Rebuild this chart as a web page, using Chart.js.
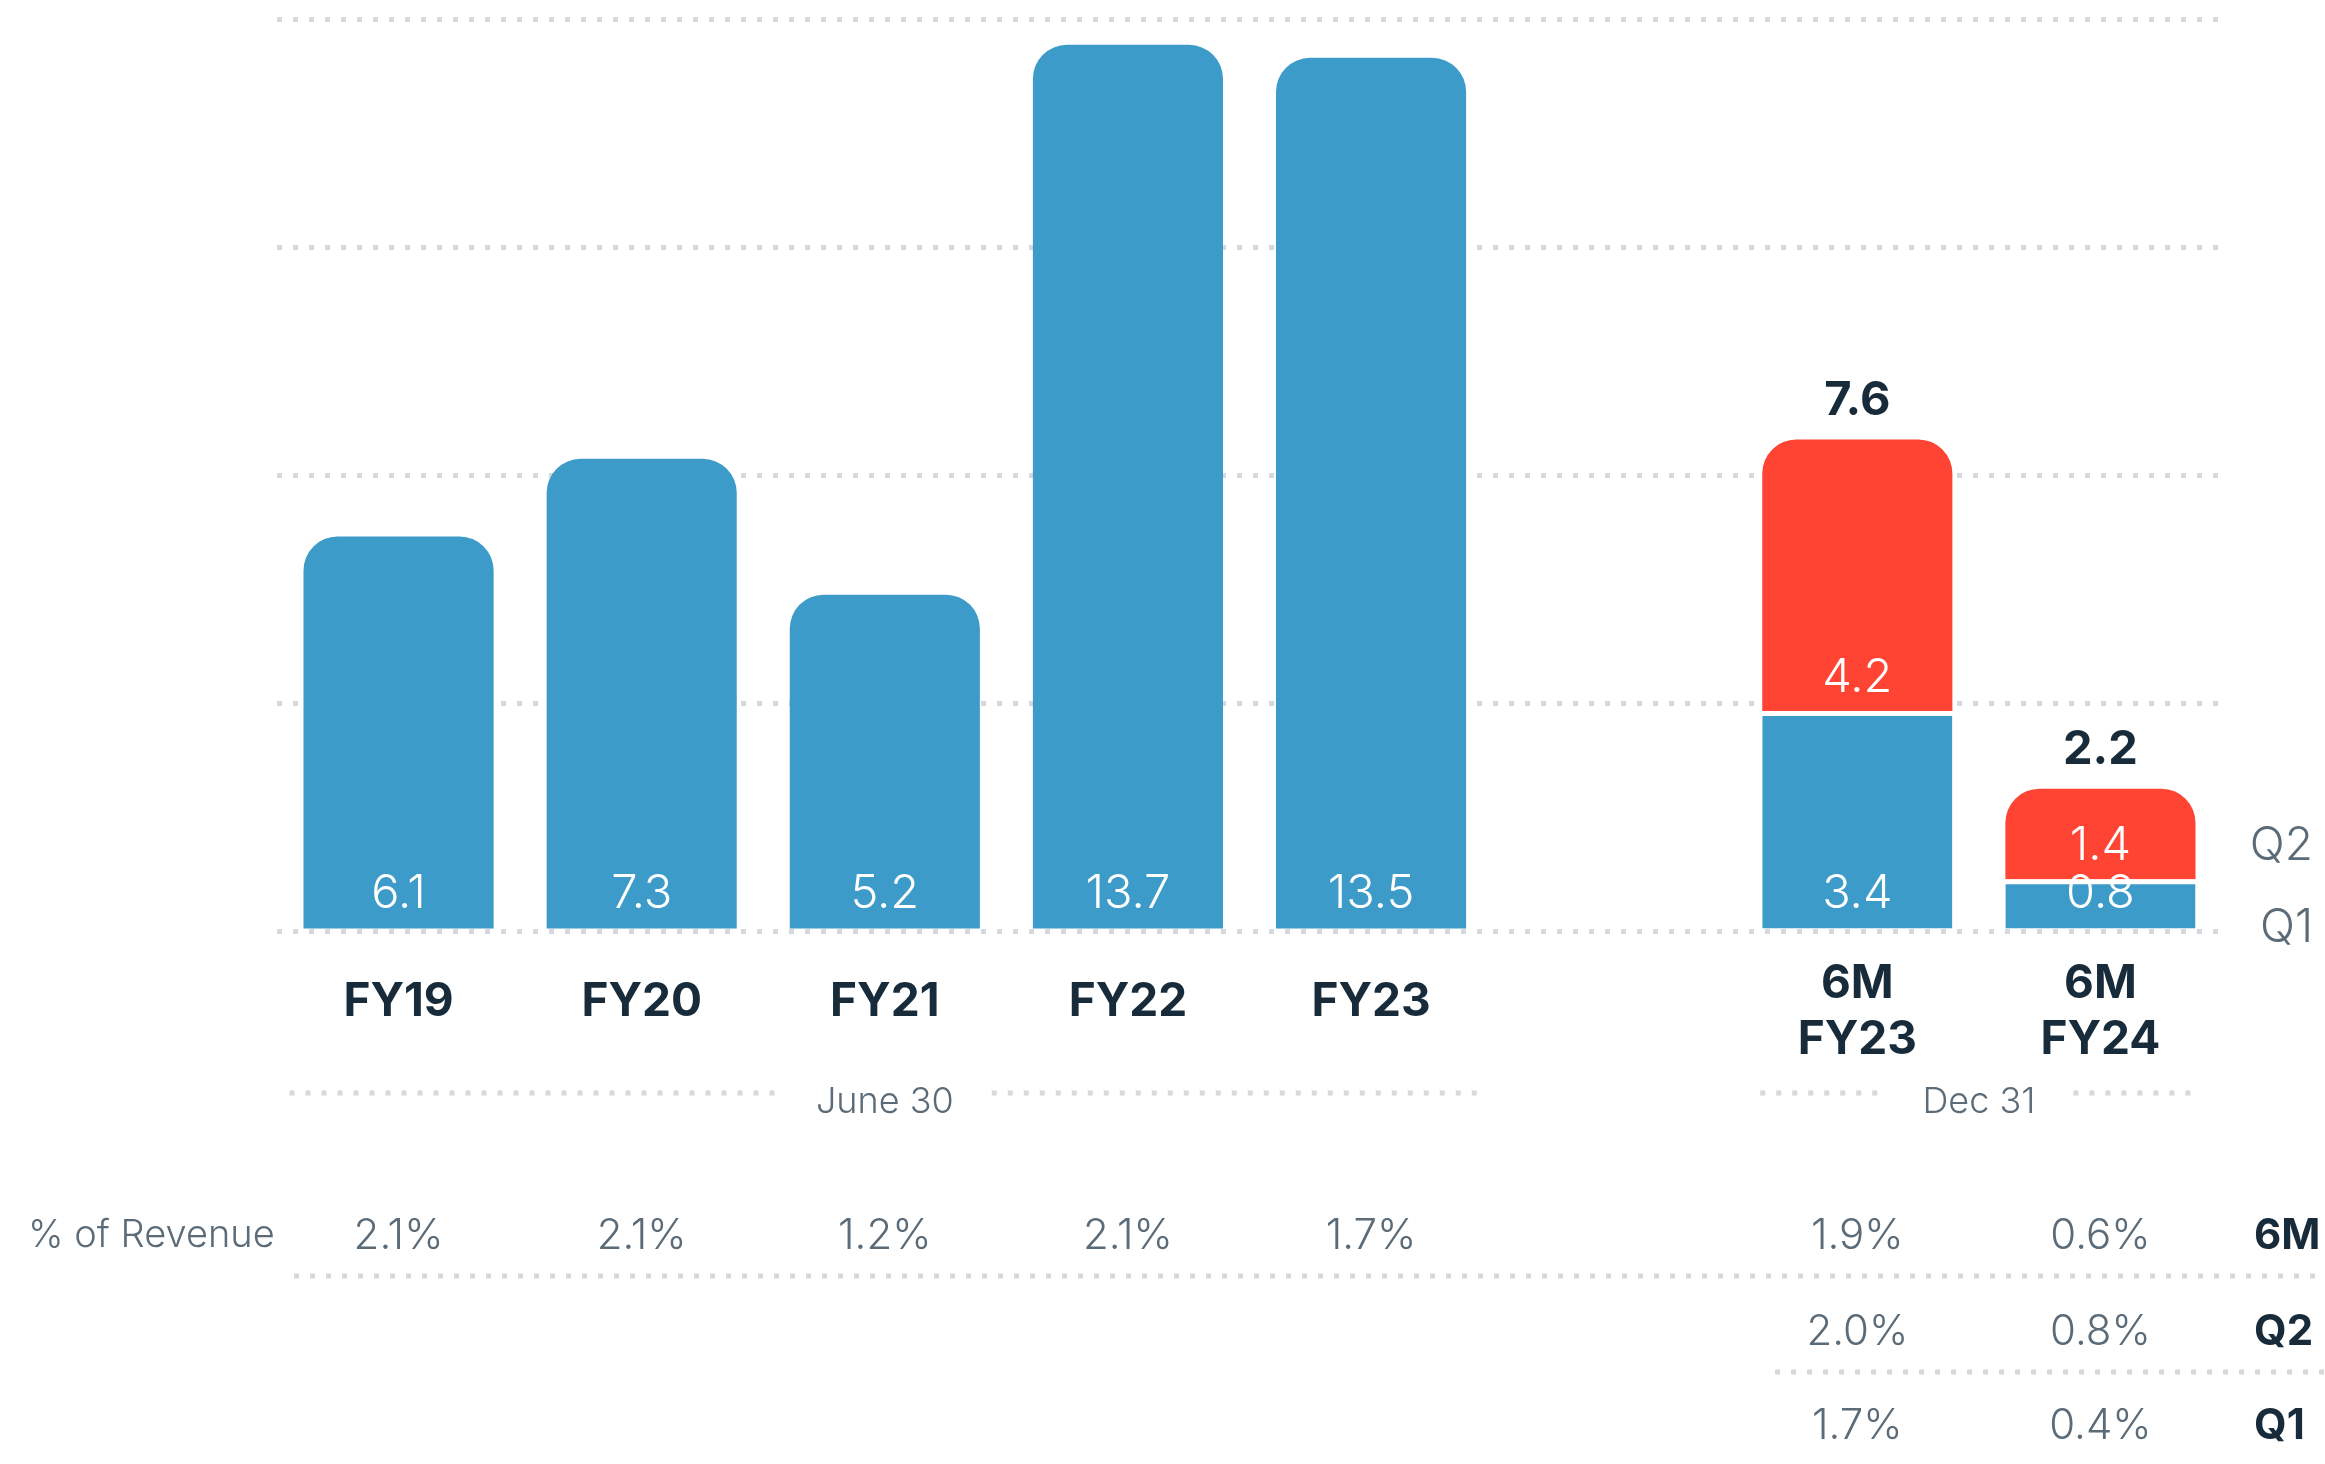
<!DOCTYPE html>
<html>
<head>
<meta charset="utf-8">
<script src="https://cdn.jsdelivr.net/npm/chart.js@4.4.0/dist/chart.umd.min.js"></script>
<style>
  html, body { margin: 0; padding: 0; background: #fff; }
  canvas { display: block; }
</style>
</head>
<body>
<canvas id="capexChart" width="2325" height="1464"></canvas>
<script>
// data
const categoryLines = [['FY19'], ['FY20'], ['FY21'], ['FY22'], ['FY23'], [''], ['6M', 'FY23'], ['6M', 'FY24']];
const baseValues = [6.1, 7.3, 5.2, 13.7, 13.5, null, 3.4, 0.8];   // full year / Q1
const q2Values = [null, null, null, null, null, null, 4.2, 1.4];
const totalValues = [null, null, null, null, null, null, 7.6, 2.2];
const revenue6M = [2.1, 2.1, 1.2, 2.1, 1.7, null, 1.9, 0.6];
const revenueQ2 = [null, null, null, null, null, null, 2.0, 0.8];
const revenueQ1 = [null, null, null, null, null, null, 1.7, 0.4];
const gridValues = [0, 3.525, 7.05, 10.575, 14.1];
const groups = [
    { label: 'June 30', from: 0, to: 4, pad: 14 },
    { label: 'Dec 31', from: 6, to: 7, pad: 2 }
];

const BLUE = '#3d9bc9';
const RED = '#ff4433';
const DARK = '#172b3a';
const GRAY = '#5b6b78';
const GRID = '#d5d8dc';
const FONT = 'Inter, "Noto Sans", sans-serif';

function dotted(ctx, x1, x2, y) {
    ctx.save();
    ctx.strokeStyle = GRID;
    ctx.lineWidth = 5;
    ctx.setLineDash([5, 11]);
    ctx.beginPath();
    ctx.moveTo(x1, y);
    ctx.lineTo(x2, y);
    ctx.stroke();
    ctx.restore();
}

// y is the visual centre of the text; small nudge so Inter sits like the original
function text(ctx, str, x, y, size, weight, color, align) {
    ctx.font = weight + ' ' + size + 'px ' + FONT;
    ctx.fillStyle = color;
    ctx.textAlign = align || 'center';
    ctx.textBaseline = 'middle';
    ctx.fillText(str, x, y + 5);
}

const labelsPlugin = {
    id: 'labels',
    afterDatasetsDraw(chart) {
        const ctx = chart.ctx;
        const xs = chart.scales.x;
        const ys = chart.scales.y;
        const blueMeta = chart.getDatasetMeta(0);
        const redMeta = chart.getDatasetMeta(1);

        // values inside bars
        blueMeta.data.forEach((bar, i) => {
            if (baseValues[i] == null) return;
            text(ctx, baseValues[i].toFixed(1), bar.x, bar.base - 40, 47, 300, '#fff');
        });
        redMeta.data.forEach((bar, i) => {
            if (q2Values[i] == null) return;
            text(ctx, q2Values[i].toFixed(1), bar.x, bar.base - 38, 47, 300, '#fff');
            text(ctx, totalValues[i].toFixed(1), bar.x, bar.y - 44, 47, 700, DARK);
        });

        // Q2 / Q1 keys beside the last bar
        const lastRed = redMeta.data[7];
        text(ctx, 'Q2', 2313, lastRed.base - 38, 46, 300, GRAY, 'right');
        text(ctx, 'Q1', 2313, ys.getPixelForValue(0) - 8, 46, 300, GRAY, 'right');

        // category labels
        categoryLines.forEach((lines, i) => {
            const x = xs.getPixelForValue(i);
            if (lines.length === 1) {
                text(ctx, lines[0], x, 997, 46, 700, DARK);
            } else {
                lines.forEach((l, k) => text(ctx, l, x, 979 + k * 56, 46, 700, DARK));
            }
        });

        // period groups
        groups.forEach(g => {
            const left = blueMeta.data[g.from];
            const right = blueMeta.data[g.to];
            const x1 = left.x - left.width / 2 - g.pad;
            const x2 = right.x + right.width / 2 + g.pad;
            const cx = (left.x + right.x) / 2;
            ctx.font = '300 36px ' + FONT;
            const w = ctx.measureText(g.label).width;
            dotted(ctx, x1, cx - w / 2 - 38, 1093);
            dotted(ctx, cx + w / 2 + 38, x2, 1093);
            text(ctx, g.label, cx, 1097, 36, 300, GRAY);
        });

        // % of revenue table
        text(ctx, '% of Revenue', 28, 1231, 38, 300, GRAY, 'left');
        const rows = [[revenue6M, '6M', 1231], [revenueQ2, 'Q2', 1327], [revenueQ1, 'Q1', 1421]];
        rows.forEach(([vals, name, y]) => {
            vals.forEach((v, i) => {
                if (v == null) return;
                text(ctx, v.toFixed(1) + '%', xs.getPixelForValue(i), y, 42, 300, GRAY);
            });
            text(ctx, name, 2254, y, 42, 700, DARK, 'left');
        });
        dotted(ctx, 294, 2325, 1276);
        dotted(ctx, 1775, 2325, 1372);
    }
};

new Chart(document.getElementById('capexChart'), {
    type: 'bar',
    data: {
        labels: categoryLines,
        datasets: [{
            label: 'Q1',
            data: baseValues,
            backgroundColor: BLUE,
            borderColor: '#fff',
            borderWidth: c => (c.dataIndex >= 6 ? { top: 5, left: 0, right: 0, bottom: 0 } : 0),
            borderSkipped: 'start',
            borderRadius: c => (c.dataIndex >= 6 ? 0 : { topLeft: 34, topRight: 34, bottomLeft: 0, bottomRight: 0 })
        }, {
            label: 'Q2',
            data: q2Values,
            backgroundColor: RED,
            borderWidth: 0,
            borderSkipped: 'start',
            borderRadius: { topLeft: 34, topRight: 34, bottomLeft: 0, bottomRight: 0 }
        }]
    },
    options: {
        responsive: false,
        animation: false,
        devicePixelRatio: 1,
        layout: { padding: { left: 277, right: 103, top: 19, bottom: 533 } },
        categoryPercentage: 1,
        barPercentage: 0.782,
        plugins: { legend: { display: false }, tooltip: { enabled: false } },
        scales: {
            x: { stacked: true, display: false },
            y: {
                stacked: true,
                min: 0,
                max: 14.1,
                afterBuildTicks: s => { s.ticks = gridValues.map(v => ({ value: v })); },
                ticks: { display: false },
                grid: { color: GRID, lineWidth: 5, drawTicks: false },
                border: { display: false, dash: [5, 11] }
            }
        }
    },
    plugins: [labelsPlugin]
});
</script>
</body>
</html>
